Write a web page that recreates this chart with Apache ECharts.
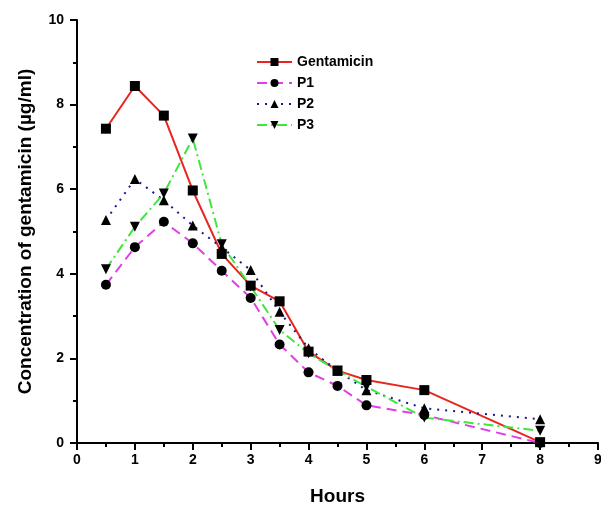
<!DOCTYPE html>
<html>
<head>
<meta charset="utf-8">
<script src="https://cdn.jsdelivr.net/npm/echarts@6/dist/echarts.min.js"></script>
<style>
  html, body { margin: 0; padding: 0; background: #fff; }
  #chart { width: 601px; height: 505px; }
</style>
</head>
<body>
<div id="chart"></div>
<script>
// sampling times (hours)
const hours = [0.5, 1, 1.5, 2, 2.5, 3, 3.5, 4, 4.5, 5, 6, 8]

// concentrations (µg/ml)
const gentamicin = [7.43, 8.44, 7.74, 5.97, 4.47, 3.72, 3.35, 2.16, 1.71, 1.49, 1.25, 0.02]
const p1 = [3.74, 4.63, 5.23, 4.72, 4.07, 3.43, 2.33, 1.67, 1.35, 0.89, 0.66, 0.0]
const p2 = [5.27, 6.24, 5.74, 5.14, 4.62, 4.09, 3.10, 2.24, 1.71, 1.25, 0.82, 0.56]
const p3 = [4.11, 5.11, 5.90, 7.20, 4.70, 3.70, 2.67, 2.12, 1.71, 1.33, 0.60, 0.29]

const seriesNames = ['Gentamicin', 'P1', 'P2', 'P3']

const toPoints = (vals) => hours.map((h, i) => [h, vals[i]])

const font = 'Arial, "Liberation Sans", sans-serif'

const chart = echarts.init(document.getElementById('chart'))

const mkSeries = (name, vals, color, type, symbol, rotate) => ({
  name: name,
  type: 'line',
  data: toPoints(vals),
  symbol: symbol,
  symbolSize: 10,
  symbolRotate: rotate || 0,
  showAllSymbol: true,
  clip: false,
  itemStyle: { color: '#000' },
  lineStyle: { color: color, width: 2, type: type },
  emphasis: { disabled: true }
})

chart.setOption({
  animation: false,
  backgroundColor: '#fff',
  textStyle: { fontFamily: font },
  grid: { left: 77, right: 3, top: 20, bottom: 62, outerBoundsMode: 'none' },
  legend: {
    data: seriesNames,
    orient: 'vertical',
    left: 256,
    top: 55,
    padding: 0,
    itemWidth: 35,
    itemHeight: 10,
    itemGap: 7,
    textStyle: { fontFamily: font, fontWeight: 'bold', fontSize: 14, color: '#000' }
  },
  xAxis: {
    type: 'value',
    min: 0,
    max: 9,
    interval: 1,
    name: 'Hours',
    nameLocation: 'middle',
    nameGap: 44,
    nameTextStyle: { fontFamily: font, fontWeight: 'bold', fontSize: 19, color: '#000' },
    axisLine: { onZero: false, lineStyle: { color: '#000', width: 2 } },
    axisTick: { inside: false, length: 7, lineStyle: { color: '#000', width: 2 } },
    minorTick: { show: true, splitNumber: 2, length: 4, lineStyle: { color: '#000', width: 2 } },
    axisLabel: { fontFamily: font, fontWeight: 'bold', fontSize: 14, color: '#000', margin: 10 },
    splitLine: { show: false }
  },
  yAxis: {
    type: 'value',
    min: 0,
    max: 10,
    interval: 2,
    name: 'Concentration of gentamicin (µg/ml)',
    nameLocation: 'middle',
    nameGap: 42,
    nameTextStyle: { fontFamily: font, fontWeight: 'bold', fontSize: 19, color: '#000' },
    axisLine: { show: true, onZero: false, lineStyle: { color: '#000', width: 2 } },
    axisTick: { show: true, inside: false, length: 7, lineStyle: { color: '#000', width: 2 } },
    minorTick: { show: true, splitNumber: 2, length: 4, lineStyle: { color: '#000', width: 2 } },
    axisLabel: { fontFamily: font, fontWeight: 'bold', fontSize: 14, color: '#000', margin: 13 },
    splitLine: { show: false }
  },
  series: [
    mkSeries('Gentamicin', gentamicin, '#e8251f', 'solid', 'rect'),
    mkSeries('P1', p1, '#e23ee6', [10, 6], 'circle'),
    mkSeries('P2', p2, '#1a1a8c', [2, 6], 'triangle'),
    mkSeries('P3', p3, '#3ee63e', [10, 4, 2, 4], 'triangle', 180)
  ]
})
</script>
</body>
</html>
